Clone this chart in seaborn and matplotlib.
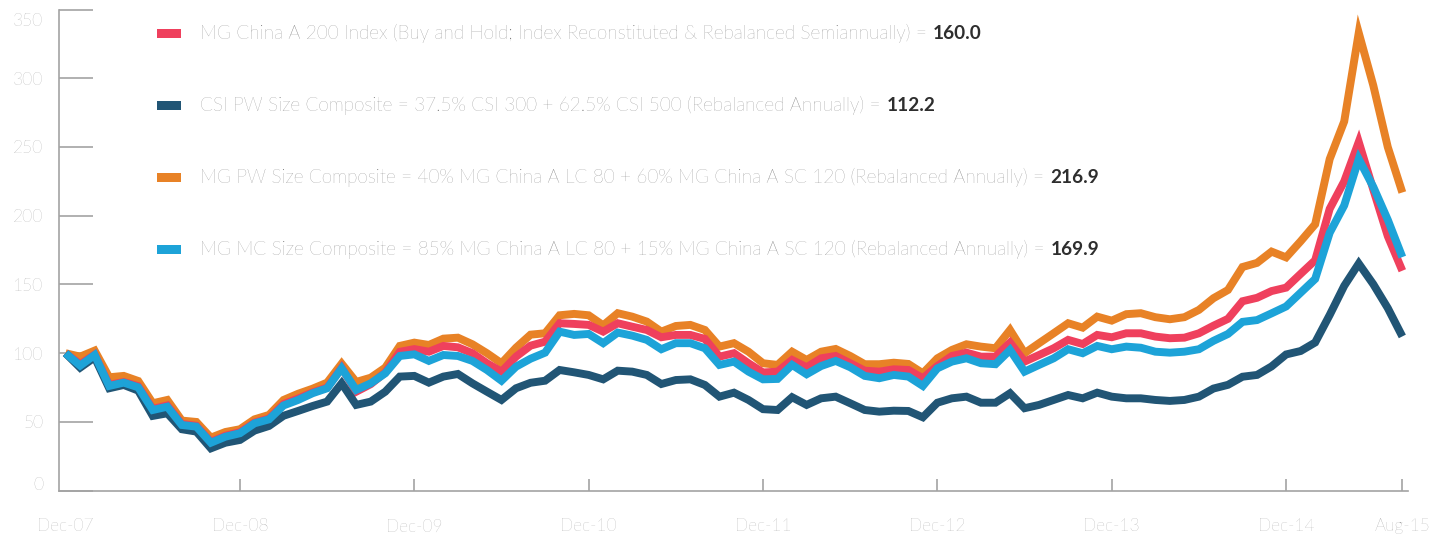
import numpy as np
import pandas as pd
import matplotlib
matplotlib.use("Agg")
import matplotlib.pyplot as plt
import matplotlib.transforms as mtransforms
from matplotlib.patches import Rectangle
import seaborn as sns

# ---------------- data ----------------
months = pd.date_range("2007-12-01", "2015-08-01", freq="MS").strftime("%b-%y").tolist()

series_names = [
    "MG China A 200 Index",
    "CSI PW Size Composite",
    "MG PW Size Composite",
    "MG MC Size Composite",
]
legend_texts = [
    "MG China A 200 Index (Buy and Hold; Index Reconstituted & Rebalanced Semiannually) =",
    "CSI PW Size Composite = 37.5% CSI 300 + 62.5% CSI 500 (Rebalanced Annually) =",
    "MG PW Size Composite = 40% MG China A LC 80 + 60% MG China A SC 120 (Rebalanced Annually) =",
    "MG MC Size Composite = 85% MG China A LC 80 + 15% MG China A SC 120 (Rebalanced Annually) =",
]
final_values = ["160.0", "112.2", "216.9", "169.9"]

mg_a200 = [100, 92, 99, 77, 79, 76, 59.5, 62, 48.5, 47.2, 35.5, 40, 42.5, 49.5, 52.5, 63,
           67, 71.5, 75, 89.5, 72, 77.5, 86, 101, 103, 101.1, 105.3, 104.3, 100, 92.7, 86.6,
           97.5, 105.5, 108.4, 121.8, 121.3, 120.6, 115.7, 121.8, 119.3, 116.9, 111.6, 113.3,
           113.3, 110.4, 97.5, 100, 92.7, 86, 86.6, 95.1, 89.8, 96.3, 98, 92.7, 87.3, 86.6,
           88.3, 87.8, 81.8, 90.7, 98, 100.4, 97.5, 97.5, 107.7, 93.9, 98.7, 103.6, 109.7,
           106.7, 113.3, 111.6, 114.5, 114.5, 112.1, 110.9, 111.3, 114.5, 120, 125, 137.8,
           140.3, 145.2, 147.7, 157.7, 167.6, 205, 225, 253.7, 219, 185.1, 160.0]
csi_pw = [100, 89.5, 97, 74.5, 76.9, 72.8, 54.4, 56.3, 44.7, 43, 30.8, 34.9, 36.9, 43.7, 47.1,
          54.5, 58, 61.6, 64.8, 78.1, 62.4, 64.8, 72, 83, 83.5, 78.6, 83, 84.9, 78.1, 72, 66,
          74.5, 78.5, 80, 87.8, 86.1, 84.2, 81, 87.3, 86.6, 84.2, 77.6, 80.5, 81, 76.9, 68.4,
          71.3, 66, 59.3, 58.7, 68, 62.4, 67.2, 68.4, 63.6, 58.7, 57.5, 58.2, 58, 53.4, 64,
          67.2, 68.4, 64, 64, 70.9, 60, 62.4, 66, 69.6, 67.2, 71.3, 68.4, 67.2, 67.2, 66, 65.3,
          66, 68.4, 74.3, 77, 82.9, 84.2, 90.4, 99.1, 101.6, 107.8, 127.8, 149, 165.2, 150.2,
          132.8, 112.2]
mg_pw = [100, 97.5, 101.9, 82.5, 83.5, 79.8, 63.6, 66, 51, 50, 38.6, 42.7, 44.7, 51.9, 55.1,
         66, 70.5, 74.2, 78.6, 92.4, 79.1, 82.2, 89.5, 105.3, 107.7, 106, 110.6, 111.3, 106.5,
         100, 92.7, 104, 113.5, 114.5, 127.6, 128.6, 127.6, 120.3, 129.1, 126.6, 123, 115.7,
         119.8, 120.6, 116.9, 104.8, 107.3, 101.1, 92.7, 91.5, 101.1, 95.1, 101.1, 103.1, 98,
         92, 92, 93.1, 92.2, 85.4, 96.3, 102.4, 106.5, 104.8, 103.6, 116.9, 100, 107.3, 114.5,
         121.8, 118.6, 126.6, 123.7, 128.4, 129.1, 126.2, 124.7, 126.2, 131.5, 140, 146, 162.7,
         165.7, 173.9, 169.7, 181.4, 193.8, 241.2, 268.6, 333, 294.8, 249.9, 216.9]
mg_mc = [100, 91, 98.7, 76.2, 78.6, 75.2, 58.7, 61.1, 47.8, 46.6, 34.9, 39.3, 41.8, 49, 51.9,
         62, 66, 70.9, 74.5, 89, 73.3, 78.1, 85.4, 98, 99.2, 94.4, 98.7, 98, 94.4, 87.8, 80,
         90.2, 96, 100.4, 115.7, 113.3, 114, 107.3, 115, 112.8, 109.7, 102.9, 107.3, 107.3,
         103.6, 91.5, 93.9, 86.6, 81, 81.3, 91.5, 84.7, 90.7, 94.4, 89.8, 83.5, 81.8, 84.2, 83,
         76.2, 89, 93.9, 96.3, 92.7, 92, 102.4, 86.6, 91.5, 96.3, 102.9, 100, 105.3, 102.9,
         104.8, 104, 101.1, 100.4, 101.1, 102.9, 109, 114, 122.8, 124.1, 129, 134, 144, 154,
         187.6, 207.5, 241.2, 221, 197, 169.9]

tick_labels = ["Dec-07", "Dec-08", "Dec-09", "Dec-10", "Dec-11", "Dec-12", "Dec-13", "Dec-14", "Aug-15"]
y_ticks = [0, 50, 100, 150, 200, 250, 300, 350]

values = {
    series_names[0]: mg_a200,
    series_names[1]: csi_pw,
    series_names[2]: mg_pw,
    series_names[3]: mg_mc,
}
df = pd.concat(
    [pd.DataFrame({"month": np.arange(len(months)), "value": v, "series": k}) for k, v in values.items()],
    ignore_index=True,
)

colors = {
    series_names[0]: "#EF405D",
    series_names[1]: "#215575",
    series_names[2]: "#E88226",
    series_names[3]: "#1DA3D8",
}
draw_order = [series_names[2], series_names[0], series_names[1], series_names[3]]

# ---------------- figure ----------------
sns.set_theme(style="white")
plt.rcParams["font.family"] = ["Lato", "DejaVu Sans"]

W, H = 1446, 537
fig = plt.figure(figsize=(W / 100, H / 100), dpi=100)
ax_left, ax_right, ax_bottom, ax_top = 59, 1408, 490.7, 9.5
ax = fig.add_axes([ax_left / W, (H - ax_bottom) / H, (ax_right - ax_left) / W, (ax_bottom - ax_top) / H])

sns.lineplot(data=df, x="month", y="value", hue="series", hue_order=draw_order,
             palette=colors, linewidth=5.7, legend=False, ax=ax, sort=False)
for ln in ax.lines:
    ln.set_solid_joinstyle("miter")
    ln.set_solid_capstyle("butt")

ax.set_xlim(-0.454, 92.39)
ax.set_ylim(0, 350)
ax.set_xlabel("")
ax.set_ylabel("")

axis_col = "#a3a3a3"
label_col = "#8e8e8e"
for s in ["top", "right"]:
    ax.spines[s].set_visible(False)
for s in ["left", "bottom"]:
    ax.spines[s].set_color(axis_col)
    ax.spines[s].set_linewidth(1.2)

ax.set_yticks(y_ticks)
ax.set_yticklabels([str(v) for v in y_ticks])
xpos = [months.index(t) for t in tick_labels]
ax.set_xticks(xpos)
ax.set_xticklabels(tick_labels)
ax.tick_params(axis="y", direction="in", length=24.5, width=1.2, color=axis_col,
               pad=11.3, labelsize=12.5, labelcolor=label_col, left=True)
ax.tick_params(axis="x", direction="in", length=8.6, width=1.2, color=axis_col,
               pad=20.0, labelsize=12.5, labelcolor=label_col, bottom=True)
ax.xaxis.get_major_ticks()[0].tick1line.set_visible(False)
for lab in ax.get_xticklabels() + ax.get_yticklabels():
    lab.set_fontweight("light")

# nudge end labels of y axis like the reference
ylabs = ax.get_yticklabels()
ylabs[-1].set_transform(ylabs[-1].get_transform() + mtransforms.ScaledTranslation(0, -10.5 / 100, fig.dpi_scale_trans))
ylabs[0].set_transform(ylabs[0].get_transform() + mtransforms.ScaledTranslation(0, 7 / 100, fig.dpi_scale_trans))

# ---------------- legend ----------------
baselines = [39, 111, 183.3, 255]
legend_order = [series_names[0], series_names[1], series_names[2], series_names[3]]
light_texts = []
for k, name in enumerate(legend_order):
    b = baselines[k]
    fig.patches.append(Rectangle((156.7 / W, (H - b + 1.2) / H), 24 / W, 9 / H,
                                 transform=fig.transFigure, facecolor=colors[name],
                                 edgecolor="none"))
    t = fig.text(200 / W, (H - b) / H, legend_texts[k], fontsize=13.7, fontweight="light",
                 color="#6c6c6c", va="baseline", ha="left")
    light_texts.append(t)

fig.canvas.draw()
renderer = fig.canvas.get_renderer()
for k, t in enumerate(light_texts):
    bb = t.get_window_extent(renderer)
    fig.text((bb.x1 + 6) / W, (H - baselines[k]) / H, final_values[k], fontsize=13.7,
             fontweight="bold", color="#2e2e2e", va="baseline", ha="left")

fig.savefig("out.png", dpi=100)
